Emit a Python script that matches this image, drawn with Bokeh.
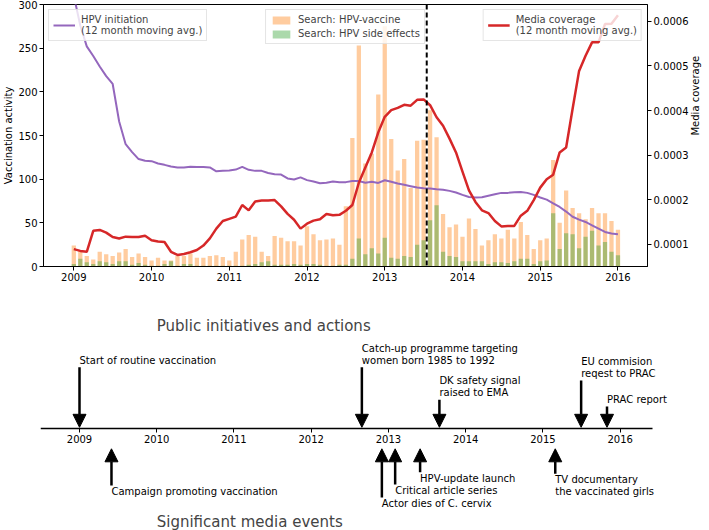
import math
import pandas as pd
from bokeh.plotting import figure
from bokeh.models import (Range1d, LinearAxis, FixedTicker, PrintfTickFormatter, Span,
                          Legend, LegendItem, ColumnDataSource, Arrow, NormalHead, Label, LabelSet)
from bokeh.layouts import column, row
from bokeh.core.properties import value
from bokeh.embed import file_html
from bokeh.resources import INLINE

# ---------------- data ----------------
months = pd.date_range("2009-01-01", "2016-01-01", freq="MS")
month_x = list(months.year + (months.month - 1) / 12.0)

search_vaccine = [
    24, 18, 12, 8, 17, 14, 12, 16, 20, 11, 15, 11,
    7, 10, 7, 7, 12, 12, 15, 10, 10, 12, 13, 11,
    7, 17, 31, 36, 34, 17, 12, 35, 33, 29, 29, 24,
    46, 37, 30, 31, 32, 25, 69, 147, 253, 118, 129, 197,
    275, 146, 110, 123, 90, 144, 145, 179, 148, 60, 45, 48,
    34, 55, 43, 24, 30, 37, 32, 42, 32, 51, 36, 20,
    30, 32, 122, 50, 87, 67, 61, 54, 67, 61, 61, 52,
    42]
search_side_effects = [
    3, 9, 5, 3, 6, 5, 3, 6, 6, 2, 4, 2,
    1, 1, 3, 6, 1, 3, 3, 1, 1, 1, 1, 1,
    1, 1, 1, 2, 3, 5, 6, 2, 2, 2, 3, 2,
    3, 3, 2, 1, 1, 2, 2, 9, 32, 14, 21, 15,
    33, 10, 9, 12, 11, 25, 30, 53, 70, 17, 12, 11,
    6, 6, 6, 6, 3, 5, 5, 4, 6, 9, 9, 3,
    6, 7, 61, 20, 38, 37, 21, 34, 41, 24, 28, 17,
    13]
hpv_initiation = [
    310, 276, 252, 241, 229, 218, 209, 166, 140, 131, 123, 121,
    120.6, 118, 116.4, 114.5, 113.4, 113.4, 114.3, 114, 114, 113.4, 109, 109.5,
    110, 111, 114, 110.7, 109.5, 109.5, 107, 105.7, 105.3, 100.8, 99.6, 102,
    98.9, 97.3, 95.4, 95.8, 97.3, 96.6, 96.6, 98, 98, 96, 97, 95.7,
    98.8, 97, 95, 93.5, 92, 90.4, 89.6, 89.3, 88.5, 88, 86.6, 84.7,
    82, 79.5, 78.9, 79.3, 81, 82.7, 84.3, 84.3, 85, 85.4, 84.3, 82,
    79, 76.6, 72.4, 68.2, 62.9, 57, 53.7, 51, 47.2, 43.4, 39.6, 37.8,
    37]
media_coverage = [
    0.89e-4, 0.85e-4, 0.83e-4, 1.30e-4, 1.32e-4, 1.26e-4, 1.16e-4, 1.13e-4, 1.17e-4, 1.16e-4, 1.16e-4, 1.19e-4,
    1.09e-4, 1.06e-4, 1.05e-4, 0.83e-4, 0.76e-4, 0.78e-4, 0.82e-4, 0.87e-4, 0.97e-4, 1.13e-4, 1.35e-4, 1.52e-4,
    1.57e-4, 1.62e-4, 1.88e-4, 1.76e-4, 1.96e-4, 1.98e-4, 1.98e-4, 1.99e-4, 1.85e-4, 1.68e-4, 1.55e-4, 1.35e-4,
    1.46e-4, 1.53e-4, 1.56e-4, 1.68e-4, 1.65e-4, 1.66e-4, 1.75e-4, 1.88e-4, 2.38e-4, 2.72e-4, 3.06e-4, 3.51e-4,
    3.86e-4, 4.01e-4, 4.06e-4, 4.13e-4, 4.11e-4, 4.24e-4, 4.25e-4, 4.12e-4, 3.85e-4, 3.66e-4, 3.37e-4, 3.06e-4,
    2.63e-4, 2.21e-4, 1.95e-4, 1.76e-4, 1.70e-4, 1.52e-4, 1.40e-4, 1.41e-4, 1.41e-4, 1.64e-4, 1.75e-4, 1.99e-4,
    2.27e-4, 2.46e-4, 2.56e-4, 3.06e-4, 3.17e-4, 4.04e-4, 4.89e-4, 5.23e-4, 5.53e-4, 5.53e-4, 5.94e-4, 5.95e-4,
    6.14e-4]

left_ticks = [0, 50, 100, 150, 200, 250, 300]
right_ticks = [0.0001, 0.0002, 0.0003, 0.0004, 0.0005, 0.0006]
year_ticks = [2009, 2010, 2011, 2012, 2013, 2014, 2015, 2016]
marker_date = 2013.54

action_dates = [2009.0, 2012.656, 2013.66, 2015.495, 2015.83]
action_labels = ["Start of routine vaccination",
                 "Catch-up programme targeting\nwomen born 1985 to 1992",
                 "DK safety signal\nraised to EMA",
                 "EU commision\nreqest to PRAC",
                 "PRAC report"]
media_dates = [2009.414, 2012.915, 2013.087, 2013.41, 2015.16]
media_labels = ["Campaign promoting vaccination",
                "Actor dies of C. cervix",
                "Critical article series",
                "HPV-update launch",
                "TV documentary\nthe vaccinated girls"]

# ---------------- layout / style ----------------
FONT = "DejaVu Sans"
ORANGE = "#ff7f0e"
GREEN = "#2ca02c"
PURPLE = "#9467bd"
RED = "#d62728"
BAR_W = 0.055
W = 709
TIMELINE_SPAN = (2008.495, 2016.42)

# text levels (px units relative to the timeline) for annotations
action_levels = [61.5, 61.5, 29, 48.3, 22.3]
media_levels = [-56.7, -68.7, -55.7, -43.4, -45]


def style_axis(ax):
    ax.major_tick_in = 0
    ax.major_tick_out = 4
    ax.minor_tick_in = 0
    ax.minor_tick_out = 0
    ax.major_label_text_font_size = "10px"
    ax.major_label_text_font = FONT
    ax.major_label_text_color = "black"
    ax.axis_label_text_font_size = "10px"
    ax.axis_label_text_font = FONT
    ax.axis_label_text_font_style = "normal"
    ax.axis_label_text_color = "black"
    ax.axis_label_text_line_height = 1.0
    ax.axis_label_standoff = 1
    ax.major_label_standoff = 2
    ax.axis_line_color = "black"
    ax.major_tick_line_color = "black"


# ---------------- top chart ----------------
p = figure(width=W, height=283, x_range=Range1d(2008.61, 2016.38), y_range=Range1d(0, 300),
           output_backend="svg", toolbar_location=None,
           min_border_left=39, min_border_right=57, min_border_top=4, min_border_bottom=0)
p.extra_y_ranges = {"media": Range1d(0.00005, 0.000638)}
p.grid.visible = False
p.outline_line_color = "black"
p.outline_line_alpha = 1

src = ColumnDataSource(dict(x=month_x, vac=search_vaccine, side=search_side_effects,
                            init=hpv_initiation, media=media_coverage))

r_vac = p.vbar(x="x", top="vac", width=BAR_W, source=src, fill_color=ORANGE, fill_alpha=0.4,
               line_color=None)
r_side = p.vbar(x="x", top="side", width=BAR_W, source=src, fill_color=GREEN, fill_alpha=0.4,
                line_color=None)
r_init = p.line("x", "init", source=src, line_color=PURPLE, line_width=2)
r_media = p.line("x", "media", source=src, y_range_name="media", line_color=RED, line_width=2.5)

p.xaxis.ticker = FixedTicker(ticks=year_ticks)
p.yaxis.ticker = FixedTicker(ticks=left_ticks)
p.yaxis.axis_label = "Vaccination activity"

ax2 = LinearAxis(y_range_name="media", axis_label="Media coverage",
                 ticker=FixedTicker(ticks=right_ticks),
                 formatter=PrintfTickFormatter(format="%.4f"))
p.add_layout(ax2, "right")
for ax in [p.xaxis[0], p.yaxis[0], ax2]:
    style_axis(ax)
ax2.axis_label_orientation = math.pi / 2
ax2.axis_label_text_align = "center"
ax2.axis_label_standoff = 4

p.add_layout(Span(location=marker_date, dimension="height", line_color="black",
                  line_dash="5 3", line_width=2))


def make_legend(items, loc):
    lg = Legend(items=items, location=loc)
    lg.label_text_font = FONT
    lg.label_text_font_size = "10px"
    lg.label_text_line_height = 1.1
    lg.glyph_width = 22
    lg.glyph_height = 10
    lg.label_standoff = 6
    lg.padding = 4
    lg.spacing = 3
    lg.margin = 5
    lg.border_line_color = "#cccccc"
    lg.background_fill_alpha = 0.8
    return lg


leg1 = make_legend([LegendItem(label="HPV initiation\n(12 month moving avg.)", renderers=[r_init])],
                   "top_left")
leg2 = make_legend([LegendItem(label="Search: HPV-vaccine", renderers=[r_vac]),
                    LegendItem(label="Search: HPV side effects", renderers=[r_side])], "top_center")
leg3 = make_legend([LegendItem(label="Media coverage\n(12 month moving avg.)", renderers=[r_media])],
                   "top_right")
for lg in (leg1, leg2, leg3):
    p.add_layout(lg)

# ---------------- timeline ----------------
t = figure(width=W, height=247, x_range=Range1d(2008.495, 2017.157), y_range=Range1d(-101.7, 145.3),
           output_backend="svg", toolbar_location=None, y_axis_location=None,
           min_border_left=40, min_border_right=0, min_border_top=0, min_border_bottom=0)
t.grid.visible = False
t.outline_line_color = None
t.xaxis.fixed_location = 0
t.xaxis.bounds = TIMELINE_SPAN
t.xaxis.ticker = FixedTicker(ticks=year_ticks)
style_axis(t.xaxis[0])
t.xaxis.axis_line_width = 1.3

asrc = ColumnDataSource(dict(x=action_dates, label=action_labels, lev=action_levels,
                             ty=[v + 1.5 for v in action_levels], tip=[1.5] * len(action_dates)))
msrc = ColumnDataSource(dict(x=media_dates, label=media_labels, lev=media_levels,
                             ty=[v - 0.5 for v in media_levels], tip=[-20] * len(media_dates)))

for s in (asrc, msrc):
    t.add_layout(Arrow(source=s, x_start="x", y_start="lev", x_end="x", y_end="tip",
                       line_width=2.5, line_color="black",
                       end=NormalHead(size=13, fill_color="black", line_color="black")))

t.add_layout(LabelSet(x="x", y="ty", text="label", source=asrc, text_align="left",
                      text_baseline="bottom", text_font=value(FONT), text_font_size=value("10px"),
                      text_line_height=1.1, text_color="black"))
t.add_layout(LabelSet(x="x", y="ty", text="label", source=msrc, text_align="left",
                      text_baseline="top", text_font=value(FONT), text_font_size=value("10px"),
                      text_line_height=1.1, text_color="black"))

t.add_layout(Label(x=2010.0, y=103, text="Public initiatives and actions", text_font=FONT,
                   text_font_size="15px", text_baseline="middle", text_align="left"))
t.add_layout(Label(x=2010.0, y=-93, text="Significant media events", text_font=FONT,
                   text_font_size="15px", text_baseline="middle", text_align="left"))

layout = column(row(p), row(t), spacing=0)
open("out.html", "w").write(file_html(layout, INLINE))
